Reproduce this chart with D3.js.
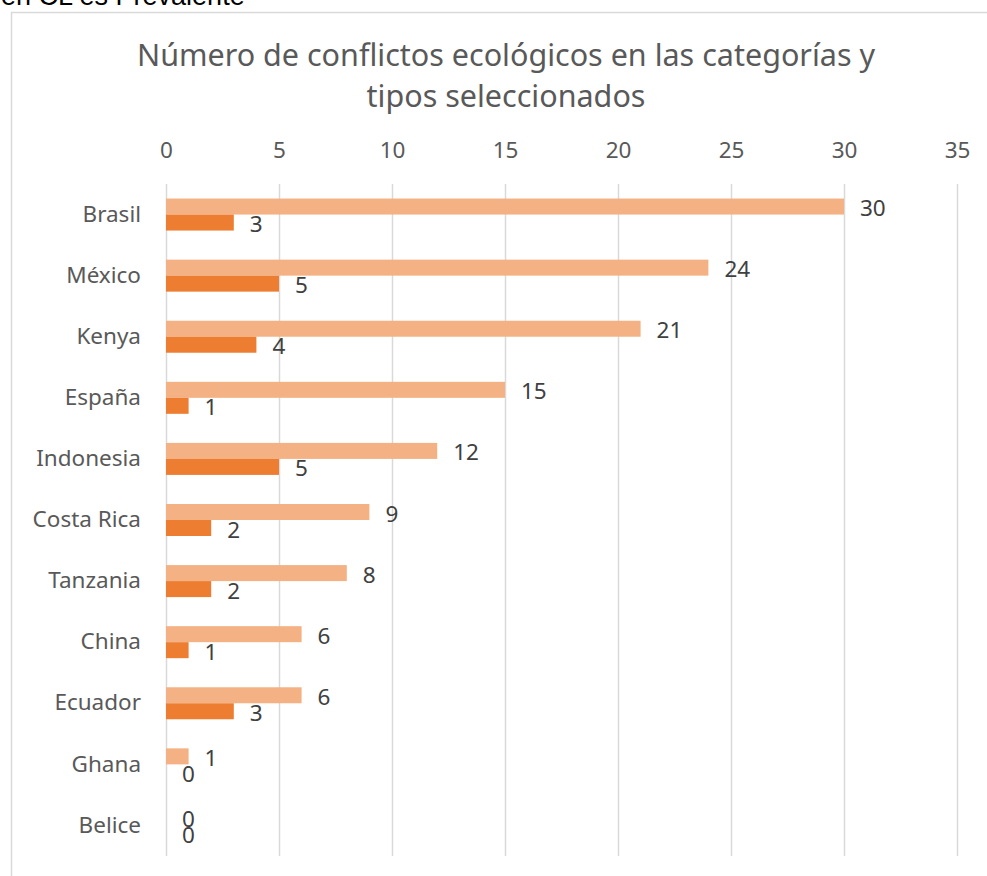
<!DOCTYPE html>
<html>
<head>
<meta charset="utf-8">
<script src="https://cdn.jsdelivr.net/npm/d3@7"></script>
<style>
  html, body { margin: 0; padding: 0; background: #fff; }
  svg { display: block; }
</style>
</head>
<body>
<svg id="chart" width="987" height="876"></svg>
<script>
// Data
const categories = ["Brasil", "México", "Kenya", "España", "Indonesia", "Costa Rica", "Tanzania", "China", "Ecuador", "Ghana", "Belice"];
const seriesA = [30, 24, 21, 15, 12, 9, 8, 6, 6, 1, 0];
const seriesB = [3, 5, 4, 1, 5, 2, 2, 1, 3, 0, 0];
const tickValues = [0, 5, 10, 15, 20, 25, 30, 35];
const titleLines = ["Número de conflictos ecológicos en las categorías y", "tipos seleccionados"];
const headerText = "en CL es Prevalente";

const svg = d3.select("#chart");
const font = "'Noto Sans', 'Open Sans', sans-serif";
const fs = 22.5;

// Clipped header from the surrounding document
svg.append("text")
  .attr("x", 1).attr("y", 5)
  .attr("font-family", "'Liberation Sans', Arial, sans-serif")
  .attr("font-size", 27)
  .attr("fill", "#000")
  .text(headerText);

// Chart frame
svg.append("rect")
  .attr("x", 11.5).attr("y", 12.5)
  .attr("width", 1000).attr("height", 900)
  .attr("fill", "#fff")
  .attr("stroke", "#d9d9d9")
  .attr("stroke-width", 1.5);

// Title
svg.append("g").selectAll("text")
  .data(titleLines)
  .join("text")
  .attr("x", 506)
  .attr("y", (d, i) => 66 + i * 41)
  .attr("text-anchor", "middle")
  .attr("font-family", font)
  .attr("font-size", 30.5)
  .attr("fill", "#595959")
  .text(d => d);

// Scales
const x = d3.scaleLinear().domain([0, 35]).range([166, 957]);
const y = d3.scaleBand().domain(categories).range([184, 856]);
const barH = 16;

// Gridlines
svg.append("g").selectAll("line")
  .data(tickValues)
  .join("line")
  .attr("x1", d => Math.round(x(d)) + 0.5)
  .attr("x2", d => Math.round(x(d)) + 0.5)
  .attr("y1", 184).attr("y2", 856)
  .attr("stroke", "#d9d9d9")
  .attr("stroke-width", 1.5);

// Top axis tick labels
const xAxis = d3.axisTop(x).tickValues(tickValues).tickSize(0).tickPadding(0);
const gx = svg.append("g").attr("transform", "translate(0,158)").call(xAxis);
gx.select(".domain").remove();
gx.selectAll("text")
  .attr("font-family", font)
  .attr("font-size", fs)
  .attr("fill", "#595959");

// Category labels
const yAxis = d3.axisLeft(y).tickSize(0).tickPadding(0);
const gy = svg.append("g").attr("transform", "translate(141,0)").call(yAxis);
gy.select(".domain").remove();
gy.selectAll("text")
  .attr("font-family", font)
  .attr("font-size", fs)
  .attr("fill", "#595959");

const rows = categories.map((c, i) => ({ c, a: seriesA[i], b: seriesB[i] }));
const mid = d => y(d.c) + y.bandwidth() / 2;

// Bars: series A on top, series B below
svg.append("g").selectAll("rect")
  .data(rows)
  .join("rect")
  .attr("x", x(0))
  .attr("y", d => mid(d) - barH)
  .attr("width", d => x(d.a) - x(0))
  .attr("height", barH)
  .attr("fill", "#F4B183");

svg.append("g").selectAll("rect")
  .data(rows)
  .join("rect")
  .attr("x", x(0))
  .attr("y", d => mid(d))
  .attr("width", d => x(d.b) - x(0))
  .attr("height", barH)
  .attr("fill", "#ED7D31");

// Value labels
const labelStyle = sel => sel
  .attr("font-family", font)
  .attr("font-size", fs)
  .attr("fill", "#404040")
  .attr("dominant-baseline", "central");

svg.append("g").selectAll("text")
  .data(rows)
  .join("text")
  .attr("x", d => x(d.a) + 16)
  .attr("y", d => mid(d) - barH / 2 + 1)
  .text(d => d.a)
  .call(labelStyle);

svg.append("g").selectAll("text")
  .data(rows)
  .join("text")
  .attr("x", d => x(d.b) + 16)
  .attr("y", d => mid(d) + barH / 2 + 1)
  .text(d => d.b)
  .call(labelStyle);
</script>
</body>
</html>
